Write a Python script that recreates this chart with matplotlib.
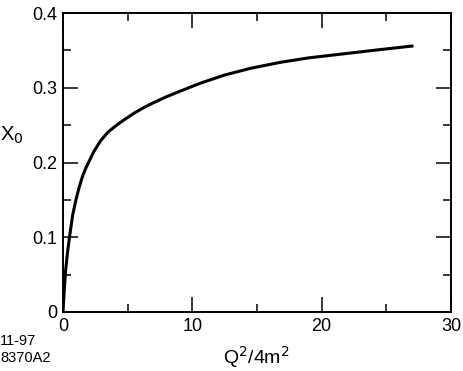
import matplotlib
matplotlib.use("Agg")
import matplotlib.pyplot as plt
from matplotlib.ticker import MultipleLocator

plt.rcParams['font.family'] = ['Liberation Sans', 'DejaVu Sans']

q2_over_4m2 = [0.0, 0.05, 0.1, 0.2, 0.35, 0.5, 0.75, 1.0, 1.25, 1.5, 1.75,
               2.0, 2.4, 2.9, 3.5, 4.15, 4.8, 5.5, 6.2, 7.0, 8.0, 9.0,
               10.6, 12.5, 14.5, 16.8, 19.0, 22.0, 24.5, 27.1]
x0_values = [0.0, 0.016, 0.03, 0.055, 0.08, 0.100, 0.130, 0.150, 0.167,
             0.181, 0.192, 0.201, 0.215, 0.229, 0.241, 0.250, 0.258, 0.266,
             0.273, 0.280, 0.288, 0.295, 0.306, 0.317, 0.326, 0.334, 0.340,
             0.346, 0.351, 0.356]
x_ticks = [0, 10, 20, 30]
x_tick_labels = ['0', '10', '20', '30']
y_ticks = [0, 0.1, 0.2, 0.3, 0.4]
y_tick_labels = ['0', '0.1', '0.2', '0.3', '0.4']

fig = plt.figure(figsize=(4.63, 3.71), dpi=100)
ax = fig.add_axes([63/463, 1-312/371, (451-63)/463, (312-13)/371])

ax.plot(q2_over_4m2, x0_values, color='black', lw=2.2,
        solid_capstyle='butt', solid_joinstyle='round')

ax.set_xlim(0, 30)
ax.set_ylim(0, 0.4)
ax.set_xticks(x_ticks)
ax.set_xticklabels(x_tick_labels)
ax.set_yticks(y_ticks)
ax.set_yticklabels(y_tick_labels)
ax.xaxis.set_minor_locator(MultipleLocator(5))
ax.yaxis.set_minor_locator(MultipleLocator(0.05))

for s in ax.spines.values():
    s.set_linewidth(1.4)
ax.tick_params(which='both', direction='in', top=True, right=True,
               labelsize=13, width=1.1, pad=4)
ax.tick_params(which='major', length=11)
ax.tick_params(which='minor', length=5.5)

fig.text(256/463, 1-357/371, r'Q$^2$/4m$^2$', ha='center', va='center', fontsize=14)
fig.text(0/463, 1-135/371, r'X$_0$', ha='left', va='center', fontsize=14.5)
fig.text(0.0, 1-341/371, '11-97', ha='left', va='center', fontsize=10.5)
fig.text(0.0, 1-358/371, '8370A2', ha='left', va='center', fontsize=10.5)

fig.savefig('out.png', dpi=100)
